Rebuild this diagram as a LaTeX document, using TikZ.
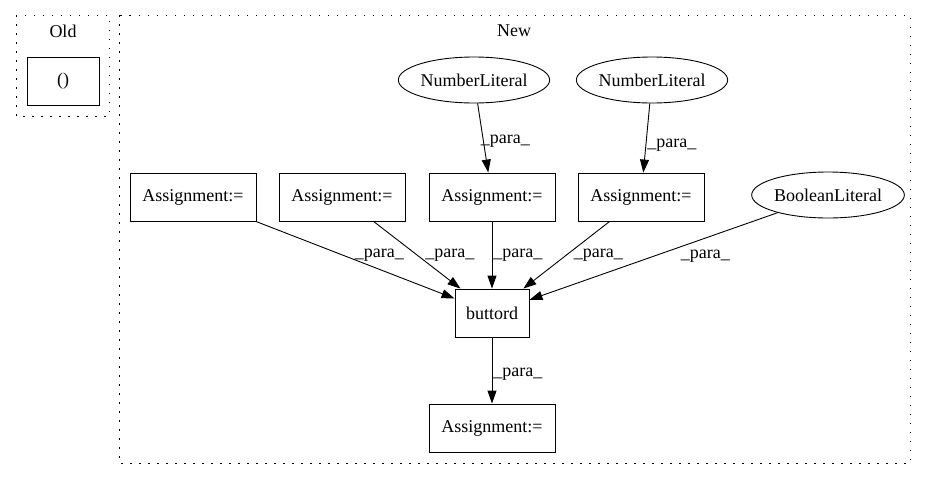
\documentclass[tikz,border=0pt]{standalone}
\usepackage{fontspec}
\setmainfont{Liberation Serif}
\usetikzlibrary{shapes.geometric,arrows.meta,positioning}

\begin{document}
\begin{tikzpicture}[
    x=1pt, y=-1pt,
    every node/.style={font=\fontsize{18}{21}\selectfont},
    box/.style={rectangle, draw, line width=0.9pt, minimum width=126pt, minimum height=48pt, inner sep=0pt},
    lit/.style={ellipse, draw, line width=0.9pt, minimum width=148pt, minimum height=46pt, inner sep=0pt},
    cluster/.style={draw, line width=1pt, dash pattern=on 1.5pt off 7.5pt},
    arrow/.style={-{Triangle[length=13pt,width=9pt]}, line width=0.9pt},
    lbl/.style={anchor=west, inner sep=1pt}
]
    \useasboundingbox (0,0) rectangle (925,480);

    % Clusters
    \draw[cluster] (16,15) rectangle (109,116);
    \draw[cluster] (119,15) rectangle (910,463);
    \node (old) at (63,31) {Old};
    \node (new) at (514,31) {New};

    % Nodes
    \node[box, minimum width=72pt] (paren) at (63,81) {()};
    \node[lit] (num1) at (474,80) {NumberLiteral};
    \node[lit] (num2) at (652,80) {NumberLiteral};
    \node[box] (asg1) at (193,197) {Assignment:=};
    \node[box] (asg2) at (342,197) {Assignment:=};
    \node[box] (asg3) at (492,197) {Assignment:=};
    \node[box] (asg4) at (641,197) {Assignment:=};
    \node[lit] (bool) at (828,195) {BooleanLiteral};
    \node[box, minimum width=74pt] (butt) at (492,313) {buttord};
    \node[box] (res) at (492,428) {Assignment:=};

    % Arrows
    \draw[arrow] (num1) -- node[lbl, pos=0.55, xshift=-4pt] {\_para\_} (asg3);
    \draw[arrow] (num2) -- node[lbl, pos=0.6, xshift=0pt] {\_para\_} (asg4);
    \draw[arrow] (asg1) -- node[lbl, pos=0.44, xshift=10pt] {\_para\_} (butt);
    \draw[arrow] (asg2) -- node[lbl, pos=0.5, xshift=7pt] {\_para\_} (butt);
    \draw[arrow] (asg3) -- node[lbl, pos=0.5] {\_para\_} (butt);
    \draw[arrow] (asg4) -- node[lbl, pos=0.5, xshift=6pt] {\_para\_} (butt);
    \draw[arrow] (bool) -- node[lbl, pos=0.5, xshift=26pt] {\_para\_} (butt);
    \draw[arrow] (butt) -- node[lbl, pos=0.56] {\_para\_} (res);
\end{tikzpicture}
\end{document}
